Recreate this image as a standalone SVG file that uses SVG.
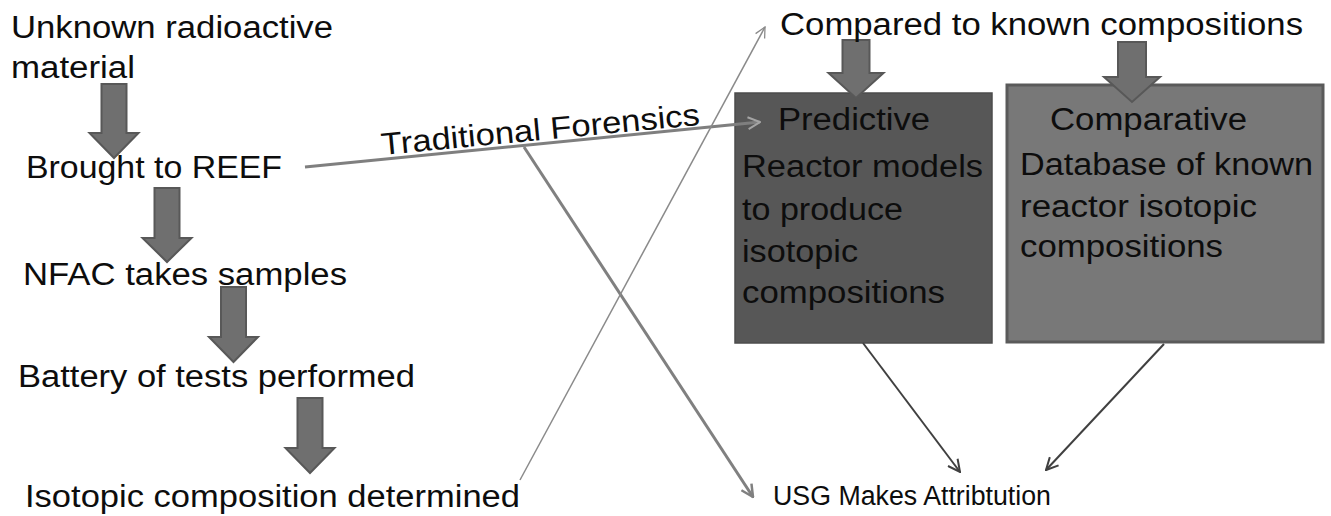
<svg xmlns="http://www.w3.org/2000/svg" width="1331" height="516" viewBox="0 0 1331 516">
<style>
text{font-family:"Liberation Sans",Arial,sans-serif;fill:#0d0d0d;font-size:31px}
.usg{font-size:27px}
.blk{fill:#6f6f6f;stroke:#585858;stroke-width:2}
.ln{fill:none}
</style>
<defs>
<marker id="hLight" viewBox="0 0 14 14" refX="13" refY="7" markerWidth="14" markerHeight="14" markerUnits="userSpaceOnUse" orient="auto"><path d="M1,1 L13,7 L1,13" fill="none" stroke="#a4a4a4" stroke-width="2"/></marker>
<marker id="hMid" viewBox="0 0 14 14" refX="13" refY="7" markerWidth="14" markerHeight="14" markerUnits="userSpaceOnUse" orient="auto"><path d="M1,1 L13,7 L1,13" fill="none" stroke="#808080" stroke-width="2.5"/></marker>
<marker id="hThin" viewBox="0 0 14 14" refX="13" refY="7" markerWidth="12" markerHeight="12" markerUnits="userSpaceOnUse" orient="auto"><path d="M1,1 L13,7 L1,13" fill="none" stroke="#8a8a8a" stroke-width="1.5"/></marker>
<marker id="hDark" viewBox="0 0 14 14" refX="13" refY="7" markerWidth="14" markerHeight="14" markerUnits="userSpaceOnUse" orient="auto"><path d="M1,1 L13,7 L1,13" fill="none" stroke="#404040" stroke-width="2"/></marker>
</defs>
<rect width="1331" height="516" fill="#fff"/>

<g id="predictive">
<rect x="735" y="93" width="257" height="250" fill="#575757" stroke="#4c4c4c" stroke-width="1.5"/>
<text x="778" y="130" textLength="152" lengthAdjust="spacingAndGlyphs">Predictive</text>
<text x="742" y="177" textLength="241" lengthAdjust="spacingAndGlyphs">Reactor models</text>
<text x="742" y="220" textLength="161" lengthAdjust="spacingAndGlyphs">to produce</text>
<text x="742" y="262" textLength="116" lengthAdjust="spacingAndGlyphs">isotopic</text>
<text x="742" y="303" textLength="203" lengthAdjust="spacingAndGlyphs">compositions</text>
</g>
<g id="comparative">
<rect x="1007" y="85" width="316" height="257" fill="#787878" stroke="#5a5a5a" stroke-width="3"/>
<text x="1050" y="130" textLength="197" lengthAdjust="spacingAndGlyphs">Comparative</text>
<text x="1020" y="175" textLength="293" lengthAdjust="spacingAndGlyphs">Database of known</text>
<text x="1020" y="217" textLength="237" lengthAdjust="spacingAndGlyphs">reactor isotopic</text>
<text x="1020" y="257" textLength="203" lengthAdjust="spacingAndGlyphs">compositions</text>
</g>

<g id="connectors">
<path class="blk" d="M101.5,84 H126.5 V133 H138.5 L114,158 L89.5,133 H101.5 Z"/>
<path class="blk" d="M154.5,188 H179.5 V238 H191.5 L167,262 L142.5,238 H154.5 Z"/>
<path class="blk" d="M221,287 H246 V337 H258 L233.5,362 L209,337 H221 Z"/>
<path class="blk" d="M297.5,398 H322.5 V448 H334.5 L310,473 L285.5,448 H297.5 Z"/>
<path class="blk" d="M842.5,40 H869.5 V73 H883.5 L856,98 L828.5,73 H842.5 Z"/>
<path class="blk" d="M1118,42 H1146 V77 H1160 L1132,102 L1104,77 H1118 Z"/>
<line class="ln" x1="305" y1="167" x2="760" y2="122" stroke="#7f7f7f" stroke-width="3" marker-end="url(#hLight)"/>
<line class="ln" x1="524" y1="147" x2="753" y2="497" stroke="#808080" stroke-width="3" marker-end="url(#hMid)"/>
<line class="ln" x1="520" y1="480" x2="765" y2="27" stroke="#8a8a8a" stroke-width="1.5" marker-end="url(#hThin)"/>
<line class="ln" x1="863" y1="343" x2="960" y2="472" stroke="#404040" stroke-width="2" marker-end="url(#hDark)"/>
<line class="ln" x1="1164" y1="344" x2="1046" y2="470" stroke="#404040" stroke-width="2" marker-end="url(#hDark)"/>
<text x="382" y="155" transform="rotate(-5.4 382 155)" textLength="320" lengthAdjust="spacingAndGlyphs">Traditional Forensics</text>
</g>

<g id="unknown"><text x="11" y="38" textLength="322" lengthAdjust="spacingAndGlyphs">Unknown radioactive</text><text x="11" y="78" textLength="124" lengthAdjust="spacingAndGlyphs">material</text></g>
<g id="reef"><text x="26" y="178" font-size="32" textLength="256" lengthAdjust="spacingAndGlyphs">Brought to REEF</text></g>
<g id="nfac"><text x="23" y="285" textLength="324" lengthAdjust="spacingAndGlyphs">NFAC takes samples</text></g>
<g id="battery"><text x="18" y="387" textLength="397" lengthAdjust="spacingAndGlyphs">Battery of tests performed</text></g>
<g id="isotopic"><text x="25" y="507" textLength="495" lengthAdjust="spacingAndGlyphs">Isotopic composition determined</text></g>
<g id="compared"><text x="780" y="35" textLength="523" lengthAdjust="spacingAndGlyphs">Compared to known compositions</text></g>
<g id="usg"><text class="usg" x="773" y="505" textLength="278" lengthAdjust="spacingAndGlyphs">USG Makes Attribtution</text></g>
</svg>
